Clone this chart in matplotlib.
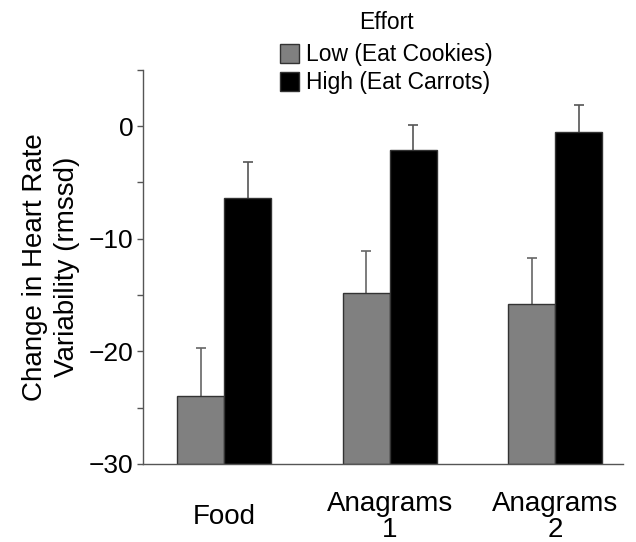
import matplotlib
matplotlib.use("Agg")
import matplotlib.pyplot as plt
import numpy as np
from matplotlib.patches import Patch

plt.rcParams['font.family'] = ['Liberation Sans', 'DejaVu Sans']

categories = ["Food", "Anagrams\n1", "Anagrams\n2"]
low_vals = [-24.0, -14.8, -15.8]
low_err = [4.3, 3.7, 4.1]
high_vals = [-6.4, -2.1, -0.5]
high_err = [3.2, 2.2, 2.4]
series_names = ["Low (Eat Cookies)", "High (Eat Carrots)"]
ylabel = "Change in Heart Rate\nVariability (rmssd)"
legend_title = "Effort"

fig = plt.figure(figsize=(6.36, 5.42), dpi=100)
ax = fig.add_axes([0.225, 0.144, 0.755, 0.727])

x = np.arange(len(categories))
w = 0.284
base = -30
edge = "#333333"
low_vals_a = np.array(low_vals)
high_vals_a = np.array(high_vals)
ax.bar(x - w/2, low_vals_a - base, w, bottom=base, color="#808080",
       edgecolor=edge, linewidth=1.0, zorder=2)
ax.bar(x + w/2, high_vals_a - base, w, bottom=base, color="#000000",
       edgecolor=edge, linewidth=1.0, zorder=2)
# upper-only error bars with cap only at the top
for xs, vals, errs, col in [(x - w/2, low_vals_a, np.array(low_err), "#666666"),
                            (x + w/2, high_vals_a, np.array(high_err), "#555555")]:
    ax.vlines(xs, vals, vals + errs, colors=col, linewidth=1.2, zorder=1)
    ax.plot(xs, vals + errs, linestyle="none", marker="_", markersize=7,
            markeredgewidth=1.2, color=col, zorder=1)

ax.set_xlim(-0.49, 2.41)
ax.set_ylim(-30, 5)
ax.set_yticks([0, -10, -20, -30])
ax.set_yticklabels(["0", "\u221210", "\u221220", "\u221230"])
ax.set_yticks([5, -5, -15, -25], minor=True)
ax.tick_params(axis="y", which="both", direction="out", length=4, width=1,
               color="#555555", labelsize=19, pad=3)
ax.set_xticks(x)
ax.set_xticklabels(categories, fontsize=20, linespacing=1.0, va="center")
ax.tick_params(axis="x", length=0, pad=38)
for s in ["top", "right"]:
    ax.spines[s].set_visible(False)
for s in ["left", "bottom"]:
    ax.spines[s].set_color("#555555")
    ax.spines[s].set_linewidth(1.0)
ax.set_ylabel(ylabel, fontsize=20, linespacing=1.33, labelpad=6)

handles = [Patch(facecolor="#808080", edgecolor=edge),
           Patch(facecolor="#000000", edgecolor=edge)]
leg = fig.legend(handles, series_names, title=legend_title, loc="upper center",
                 bbox_to_anchor=(0.607, 1.012), frameon=False, fontsize=16.5,
                 title_fontsize=16.5, handlelength=0.85, handleheight=0.85,
                 handletextpad=0.3, labelspacing=0.22, borderpad=0.25)
leg._legend_box.sep = 7
fig.savefig("out.png", dpi=100)
